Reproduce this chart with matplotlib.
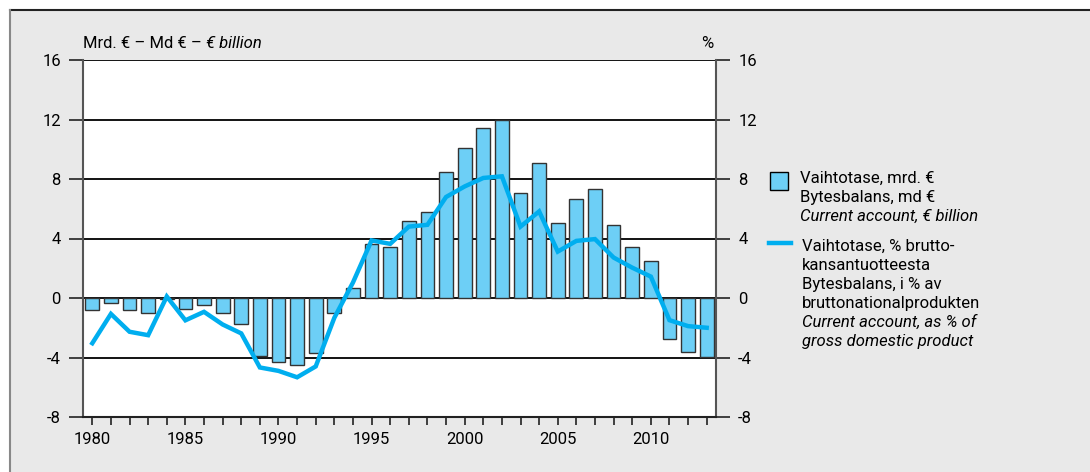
import matplotlib
matplotlib.use('Agg')
import matplotlib.pyplot as plt
from matplotlib.patches import Rectangle
from matplotlib.lines import Line2D
from matplotlib.ticker import MultipleLocator

plt.rcParams['font.family'] = ['Roboto', 'DejaVu Sans']
plt.rcParams['font.size'] = 12
plt.rcParams['axes.unicode_minus'] = False

# Vaihtotase, mrd. € / % BKT:sta
years = list(range(1980, 2014))
ca_bn = [-0.84, -0.33, -0.84, -1.04, -0.05, -0.73, -0.47, -1.04, -1.73, -3.93,
         -4.33, -4.53, -3.73, -1.04, 0.64, 3.64, 3.44, 5.15, 5.75, 8.47,
         10.07, 11.46, 11.96, 7.03, 9.08, 5.03, 6.65, 7.33, 4.94, 3.44,
         2.52, -2.73, -3.62, -3.96]
ca_pct = [-3.04, -1.07, -2.27, -2.5, 0.1, -1.5, -0.93, -1.78, -2.38, -4.67,
          -4.9, -5.33, -4.6, -1.33, 1.04, 3.87, 3.64, 4.8, 4.92, 6.79,
          7.5, 8.07, 8.18, 4.8, 5.82, 3.12, 3.84, 3.96, 2.72, 2.04,
          1.44, -1.49, -1.89, -2.0]
yticks = [-8, -4, 0, 4, 8, 12, 16]

W, H = 1090, 472
bar_col = '#6dcff6'
line_col = '#00aeef'


def px(x, y):
    return x / W, 1 - y / H


fig = plt.figure(figsize=(W / 100, H / 100), dpi=100)
fig.patch.set_facecolor('white')

# harmaa tausta ja reunat
fig.patches.append(Rectangle((10 / W, 0), 1, 1 - 10 / H, transform=fig.transFigure,
                             facecolor='#e9e9e9', edgecolor='none', zorder=-10))
fig.add_artist(Line2D([10 / W, 1], [1 - 10 / H] * 2, transform=fig.transFigure,
                      color='#222222', lw=1.5))
fig.add_artist(Line2D([10 / W] * 2, [0, 1 - 10 / H], transform=fig.transFigure,
                      color='#888888', lw=1.5))

ax = fig.add_axes([83 / W, 1 - 417 / H, (716 - 83) / W, (417 - 60) / H])
ax.set_facecolor('white')

ax.bar(years, ca_bn, width=0.74, color=bar_col, edgecolor='#333333', linewidth=1, zorder=2)
ax.plot(years, ca_pct, color=line_col, lw=3.2, solid_joinstyle='miter', zorder=3)

ax.set_xlim(1979.5, 2013.5)
ax.set_ylim(-8, 16)
ax.set_yticks(yticks)
for v in yticks:
    ax.axhline(v, color='black', lw=1.3, zorder=1)

ax.xaxis.set_major_locator(MultipleLocator(5))
ax.xaxis.set_minor_locator(MultipleLocator(1))
ax.tick_params(axis='x', which='both', direction='out', length=6, width=1.2, color='#222222')
ax.tick_params(axis='x', which='major', pad=5)
ax.tick_params(axis='y', direction='out', length=10, width=1.2, pad=6, color='#222222',
               labelleft=True, labelright=True, right=True)
for s in ['left', 'right']:
    ax.spines[s].set_color('#555555')
    ax.spines[s].set_linewidth(1.5)
ax.spines['top'].set_visible(False)
ax.spines['bottom'].set_color('#222222')
ax.spines['bottom'].set_linewidth(1.5)

# akselien otsikot
t1 = fig.text(*px(83, 43), 'Mrd. € – Md € – ', ha='left', va='center')
ax.annotate('€ billion', xy=(1, 0.5), xycoords=t1, ha='left', va='center',
            style='italic', annotation_clip=False)
fig.text(*px(707, 43), '%', ha='center', va='center')

# selite
fig.patches.append(Rectangle(px(770, 190), 18 / W, 18 / H, transform=fig.transFigure,
                             facecolor=bar_col, edgecolor='black', lw=1))
fig.add_artist(Line2D([769 / W, 791 / W], [1 - 243 / H] * 2, transform=fig.transFigure,
                      color=line_col, lw=3.2))

leg1 = [('Vaihtotase, mrd. €', 'normal'), ('Bytesbalans, md €', 'normal'),
        ('Current account, € billion', 'italic')]
leg2 = [('Vaihtotase, % brutto-', 'normal'), ('kansantuotteesta', 'normal'),
        ('Bytesbalans, i % av', 'normal'), ('bruttonationalprodukten', 'normal'),
        ('Current account, as % of', 'italic'), ('gross domestic product', 'italic')]
for i, (txt, st) in enumerate(leg1):
    fig.text(*px(800, 171 + i * 19), txt, ha='left', va='top', style=st)
for i, (txt, st) in enumerate(leg2):
    fig.text(*px(802, 239 + i * 19), txt, ha='left', va='top', style=st)

fig.savefig('out.png', dpi=100)
